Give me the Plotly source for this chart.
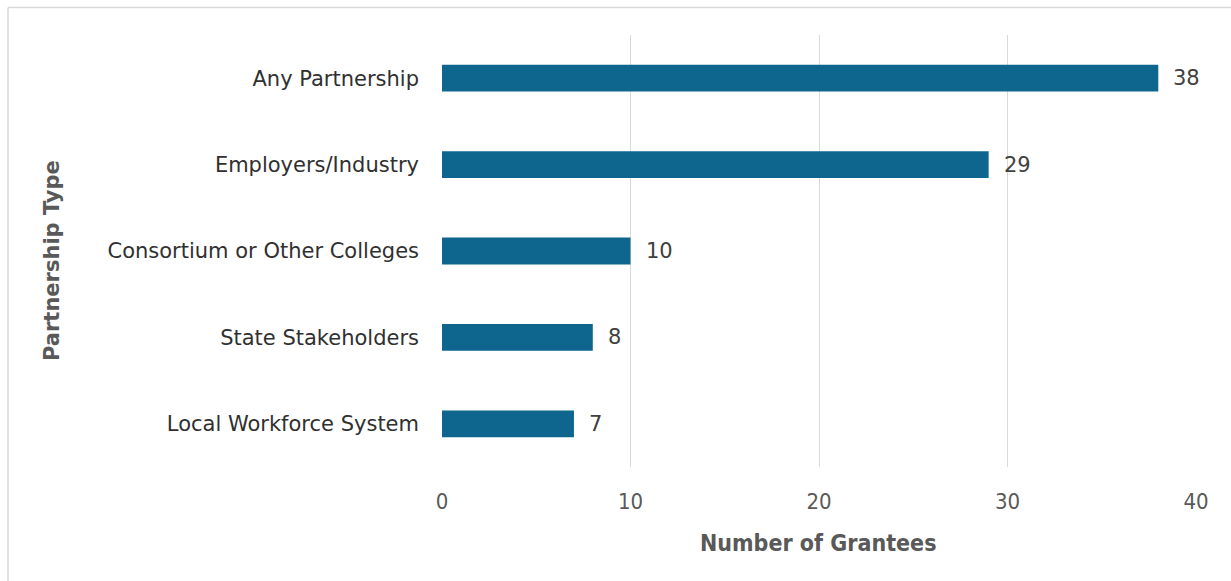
import plotly.graph_objects as go

# Partnership categories (top to bottom) and grantee counts
categories = [
    "Any Partnership",
    "Employers/Industry",
    "Consortium or Other Colleges",
    "State Stakeholders",
    "Local Workforce System",
]
grantees = [38, 29, 10, 8, 7]
x_ticks = [0, 10, 20, 30, 40]

FONT = "DejaVu Sans, Tahoma, Verdana, sans-serif"
FONT_NARROW = "DejaVu Sans Condensed, DejaVu Sans, sans-serif"
BAR_COLOR = "#0e668f"

W, H = 1231, 581
ML, MR, MT, MB = 442, 35, 35, 114
pw, ph = W - ML - MR, H - MT - MB


def px_x(p):
    return (p - ML) / pw


def px_y(p):
    return (H - MB - p) / ph


fig = go.Figure(
    go.Bar(
        y=categories,
        x=grantees,
        orientation="h",
        width=0.31,
        marker=dict(color=BAR_COLOR, line=dict(width=0)),
        hoverinfo="skip",
    )
)

# value labels just past the end of each bar
for cat, val in zip(categories, grantees):
    fig.add_annotation(
        x=val, y=cat, xref="x", yref="y",
        text=str(val), showarrow=False,
        xanchor="left", yanchor="middle", xshift=13,
        font=dict(family=FONT, size=21, color="#404040"),
    )

# axis titles
fig.add_annotation(
    x=px_x(818), y=px_y(543), xref="paper", yref="paper",
    text="<b>Number of Grantees</b>", showarrow=False,
    xanchor="center", yanchor="middle",
    font=dict(family=FONT_NARROW, size=23, color="#595959"),
)
fig.add_annotation(
    x=px_x(52), y=px_y(261), xref="paper", yref="paper",
    text="<b>Partnership Type</b>", showarrow=False, textangle=-90,
    xanchor="center", yanchor="middle",
    font=dict(family=FONT, size=21, color="#595959"),
)

# light frame along the top and left edges of the figure
fig.add_shape(type="line", xref="paper", yref="paper",
              x0=px_x(8), x1=px_x(1240), y0=px_y(7.5), y1=px_y(7.5),
              line=dict(color="#d9d9d9", width=1.5))
fig.add_shape(type="line", xref="paper", yref="paper",
              x0=px_x(8), x1=px_x(8), y0=px_y(7.5), y1=px_y(600),
              line=dict(color="#d9d9d9", width=1.5))

fig.update_layout(
    width=W,
    height=H,
    margin=dict(l=ML, r=MR, t=MT, b=MB),
    paper_bgcolor="white",
    plot_bgcolor="white",
    showlegend=False,
    font=dict(family=FONT, color="#404040"),
    xaxis=dict(
        range=[0, 40],
        tickvals=x_ticks,
        ticktext=[str(t) for t in x_ticks],
        showgrid=True,
        gridcolor="#d9d9d9",
        gridwidth=1,
        zeroline=False,
        showline=False,
        ticks="",
        ticklen=0,
        ticklabelstandoff=19,
        tickfont=dict(family=FONT_NARROW, size=22, color="#595959"),
    ),
    yaxis=dict(
        categoryorder="array",
        categoryarray=categories[::-1],
        showgrid=False,
        zeroline=False,
        showline=False,
        ticks="",
        ticklen=0,
        tickfont=dict(family=FONT, size=21, color="#303030"),
        ticklabelstandoff=22,
    ),
)

fig.write_html("out.html")
